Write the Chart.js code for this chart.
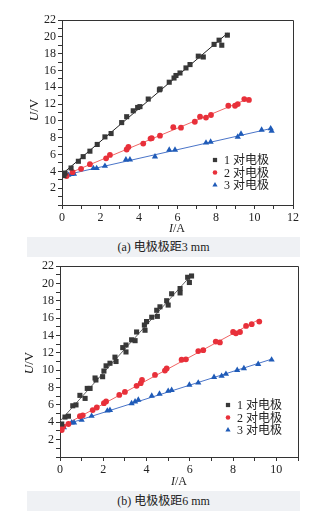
<!DOCTYPE html>
<html>
<head>
<meta charset="utf-8">
<script src="https://cdn.jsdelivr.net/npm/chart.js@4.4.1/dist/chart.umd.min.js"></script>
<style>
  body { margin: 0; background: #fff; width: 321px; height: 512px; position: relative; overflow: hidden; }
  .box { position: absolute; left: 0; width: 321px; }
  .cap { position: absolute; left: 27px; width: 273px; height: 20px; background: #eff1f4;
         font: 12px "Liberation Serif", "Noto Sans CJK SC", serif; color: #222;
         text-align: center; line-height: 20px; }
</style>
</head>
<body>
<div class="box" style="top:0;height:236px"><canvas id="chartA" width="321" height="236"></canvas></div>
<div class="cap" style="top:237px">(a) 电极极距3 mm</div>
<div class="box" style="top:250px;height:240px"><canvas id="chartB" width="321" height="240"></canvas></div>
<div class="cap" style="top:491px">(b) 电极极距6 mm</div>
<script>
// legend names
const names = ['1 对电极', '2 对电极', '3 对电极'];

// (a) 3 mm
const a1x = [0.1, 0.16, 0.47, 0.85, 1.1, 1.45, 1.83, 2.23, 2.55, 3.1, 3.36, 3.7, 3.93, 4.05, 4.48, 5.06, 5.1, 5.57, 5.82, 5.92, 6.13, 6.44, 6.65, 7.08, 7.34, 7.9, 8.16, 8.3, 8.59];
const a1y = [3.5, 3.8, 4.4, 5.2, 5.75, 6.4, 7.2, 8.1, 8.5, 9.8, 10.5, 11.2, 11.6, 11.7, 12.6, 13.7, 13.8, 14.6, 15.1, 15.4, 15.7, 16.3, 16.7, 17.7, 17.6, 19.1, 19.6, 19.0, 20.2];
const a2x = [0.24, 0.55, 0.99, 1.45, 2.29, 2.49, 3.36, 3.45, 4.22, 4.6, 4.66, 5.09, 5.78, 6.18, 6.9, 7.17, 7.48, 7.74, 8.64, 8.99, 9.13, 9.47, 9.71];
const a2y = [3.45, 3.9, 4.3, 4.85, 5.55, 5.95, 6.6, 6.9, 7.3, 7.9, 7.95, 8.25, 9.25, 9.2, 9.9, 10.5, 10.4, 10.7, 11.8, 11.8, 12.0, 12.6, 12.5];
const a3x = [0.33, 0.5, 0.62, 1.63, 1.8, 2.23, 3.32, 3.53, 4.83, 5.57, 5.87, 7.48, 7.72, 9.13, 9.3, 10.37, 10.84, 10.89];
const a3y = [3.57, 3.65, 3.7, 4.37, 4.37, 4.64, 5.4, 5.4, 5.75, 6.55, 6.55, 7.4, 7.5, 8.1, 8.45, 8.93, 9.1, 8.8];

// (b) 6 mm
const b1x = [0.08, 0.23, 0.39, 0.59, 0.74, 0.92, 1.16, 1.26, 1.39, 1.62, 1.66, 1.97, 2.03, 2.13, 2.31, 2.54, 2.59, 2.9, 3.05, 3.05, 3.31, 3.47, 3.54, 3.9, 3.93, 4.0, 4.24, 4.47, 4.5, 4.62, 4.93, 5.0, 5.16, 5.55, 5.55, 5.9, 5.98, 6.08];
const b1y = [3.8, 4.6, 4.7, 5.9, 6.0, 7.1, 6.75, 7.9, 7.9, 9.1, 8.87, 9.25, 9.9, 10.5, 10.8, 11.5, 11.0, 12.6, 12.9, 12.1, 13.5, 13.4, 14.4, 15.2, 14.6, 15.6, 16.1, 16.9, 16.2, 17.3, 18.0, 17.5, 18.8, 19.4, 18.9, 20.7, 20.1, 20.85];
const b2x = [0.08, 0.15, 0.39, 0.92, 1.05, 1.51, 1.7, 2.03, 2.13, 2.74, 3.0, 3.54, 3.73, 3.79, 4.39, 4.85, 4.93, 5.62, 5.82, 6.39, 6.62, 7.2, 7.39, 8.0, 8.13, 8.32, 8.6, 8.86, 9.21];
const b2y = [3.1, 3.5, 3.8, 4.7, 4.8, 5.4, 5.7, 6.2, 6.4, 7.15, 7.5, 8.2, 8.5, 8.87, 9.45, 9.95, 10.2, 11.2, 11.25, 12.2, 12.3, 13.3, 13.2, 14.4, 14.25, 14.4, 15.1, 15.3, 15.6];
const b3x = [0.18, 0.54, 0.65, 1.0, 1.46, 2.19, 2.31, 3.31, 3.47, 3.62, 4.24, 4.6, 5.0, 5.16, 5.98, 6.39, 7.12, 7.47, 7.67, 8.19, 8.5, 9.16, 9.78];
const b3y = [3.4, 3.95, 3.95, 4.26, 4.72, 5.33, 5.4, 6.17, 6.37, 6.57, 7.03, 7.26, 7.6, 7.7, 8.3, 8.55, 9.2, 9.33, 9.56, 10.0, 10.2, 10.7, 11.2];

const serif = '"Liberation Serif", "Noto Sans CJK SC", serif';

// least squares line over the data range
function fitLine(xs, ys){
  const n = xs.length;
  let sx = 0, sy = 0, sxx = 0, sxy = 0;
  for(let i = 0; i < n; i++){ sx += xs[i]; sy += ys[i]; sxx += xs[i]*xs[i]; sxy += xs[i]*ys[i]; }
  const k = (n*sxy - sx*sy) / (n*sxx - sx*sx);
  const b = (sy - k*sx) / n;
  const x0 = 0, x1 = Math.max(...xs);
  return [{x: x0, y: k*x0 + b}, {x: x1, y: k*x1 + b}];
}

function pts(xs, ys){ return xs.map((x, i) => ({x: x, y: ys[i]})); }

// draws frame, axis titles and legend
const extras = {
  id: 'extras',
  afterDraw(chart, args, o){
    const c = chart.ctx, a = chart.chartArea;
    c.save();
    c.strokeStyle = '#333'; c.lineWidth = 1;
    c.beginPath();
    c.moveTo(a.left, a.top + 0.5); c.lineTo(a.right + 0.5, a.top + 0.5); c.lineTo(a.right + 0.5, a.bottom);
    c.stroke();

    c.fillStyle = '#222';
    c.textBaseline = 'middle';
    // x title
    c.font = 'italic 12px ' + serif;
    const wI = c.measureText('I').width;
    c.font = '12px ' + serif;
    const wA = c.measureText('/A').width;
    let sx = o.xt[0] - (wI + wA) / 2;
    c.textAlign = 'left';
    c.font = 'italic 12px ' + serif; c.fillText('I', sx, o.xt[1]);
    c.font = '12px ' + serif; c.fillText('/A', sx + wI, o.xt[1]);
    // y title
    c.translate(o.yt[0], o.yt[1]);
    c.rotate(-Math.PI / 2);
    c.font = 'italic 13px ' + serif;
    const wU = c.measureText('U').width;
    c.font = '13px ' + serif;
    const wV = c.measureText('/V').width;
    sx = -(wU + wV) / 2;
    c.font = 'italic 13px ' + serif; c.fillText('U', sx, 0);
    c.font = '13px ' + serif; c.fillText('/V', sx + wU, 0);
    c.setTransform(1, 0, 0, 1, 0, 0);

    // legend
    c.font = '12px ' + serif;
    for(let i = 0; i < 3; i++){
      const ds = chart.data.datasets[i];
      const y = o.lg[1] + i * 12.5;
      c.fillStyle = ds.backgroundColor;
      c.strokeStyle = ds.backgroundColor;
      Chart.helpers.drawPoint(c, {pointStyle: ds.pointStyle, radius: ds.pointRadius - 0.6, borderWidth: 0}, o.lg[0], y);
      c.fillStyle = '#222';
      c.fillText(names[i], o.lg[0] + 9, y + 1);
    }
    c.restore();
  }
};

function makeChart(id, series, xmax, area, titles){
  const colors = ['#383838', '#e8303a', '#1f5bb8'];
  const lineColors = [titles.blackLine, '#f06464', '#4a74c8'];
  const styles = ['rect', 'circle', 'triangle'];
  const radius = [3.6, 2.9, 3.6];
  const datasets = [];
  series.forEach((s, i) => {
    datasets.push({
      label: names[i], data: pts(s[0], s[1]), showLine: false,
      pointStyle: styles[i], pointRadius: radius[i], pointBorderWidth: 0,
      backgroundColor: colors[i], borderColor: colors[i], order: 1
    });
  });
  series.forEach((s, i) => {
    datasets.push({
      data: fitLine(s[0], s[1]), showLine: true, pointRadius: 0,
      borderColor: lineColors[i], borderWidth: 1, order: 2
    });
  });
  const tickFont = {family: serif, size: 12};
  return new Chart(document.getElementById(id), {
    type: 'scatter',
    data: {datasets: datasets},
    plugins: [extras],
    options: {
      responsive: false, animation: false,
      layout: {padding: {left: 0, top: area.top, right: area.right, bottom: 0}},
      plugins: {legend: {display: false}, tooltip: {enabled: false}, extras: titles},
      scales: {
        x: {
          min: 0, max: xmax,
          ticks: {stepSize: 1, autoSkip: false, maxRotation: 0, color: '#222', font: tickFont, padding: 2,
                  callback: v => v % 2 === 0 ? v : ''},
          grid: {drawOnChartArea: false, tickLength: 4, color: '#333'},
          border: {color: '#333', width: 1},
          afterFit: s => { s.height = area.xh; }
        },
        y: {
          min: 0, max: 22,
          ticks: {stepSize: 1, autoSkip: false, color: '#222', font: tickFont, padding: 2,
                  callback: v => (v % 2 === 0 && v > 0) ? v : ''},
          grid: {drawOnChartArea: false, tickLength: 4, color: '#333'},
          border: {color: '#333', width: 1},
          afterFit: s => { s.width = area.left; }
        }
      }
    }
  });
}

makeChart('chartA', [[a1x, a1y], [a2x, a2y], [a3x, a3y]], 12,
  {top: 20, right: 28, left: 62, xh: 31},
  {xt: [177, 229], yt: [35, 110], lg: [215, 160], blackLine: '#222'});

makeChart('chartB', [[b1x, b1y], [b2x, b2y], [b3x, b3y]], 11,
  {top: 16, right: 23, left: 60, xh: 33},
  {xt: [179, 232], yt: [30, 113], lg: [228, 155], blackLine: '#666'});
</script>
</body>
</html>
